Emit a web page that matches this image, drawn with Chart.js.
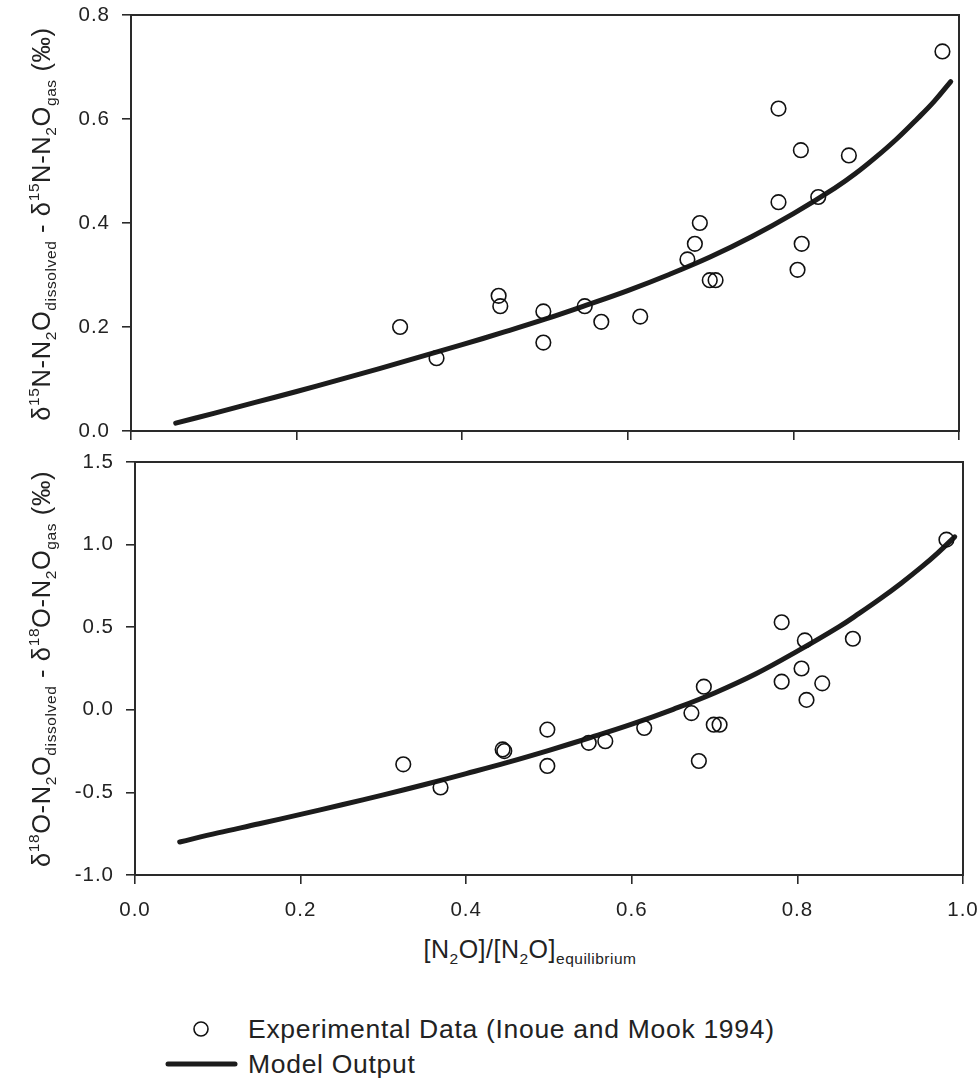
<!DOCTYPE html>
<html>
<head>
<meta charset="utf-8">
<script src="https://cdn.jsdelivr.net/npm/chart.js@4.4.1/dist/chart.umd.min.js"></script>
<style>
  html, body { margin: 0; padding: 0; background: #fff; }
  body { width: 980px; height: 1081px; position: relative; overflow: hidden;
         font-family: "Liberation Sans", Arial, sans-serif; color: #222; }
  canvas { position: absolute; left: 0; }
  .ytitle { position: absolute; white-space: nowrap; font-size: 25.5px; letter-spacing: 0.6px;
            transform: translate(-50%, -50%) rotate(-90deg); line-height: 1; }
  .ytitle sub, .ytitle sup, .xtitle sub { font-size: 15.5px; line-height: 0; }
  .ytitle sub, .xtitle sub { vertical-align: -6px; }
  .ytitle sup { vertical-align: 11px; }
  .xtitle { position: absolute; white-space: nowrap; font-size: 25px; letter-spacing: 0.5px;
            transform: translateX(-50%); line-height: 1; }
  .legrow { position: absolute; white-space: nowrap; }
  .legrow span { position: absolute; top: 0; font-size: 26.5px; letter-spacing: 0.7px; }
  .sym { position: absolute; }
</style>
</head>
<body>
<canvas id="topChart" width="980" height="450" style="top:0"></canvas>
<canvas id="botChart" width="980" height="480" style="top:450px"></canvas>

<div class="ytitle" style="left:42px; top:224px;">&delta;<sup>15</sup>N-N<sub>2</sub>O<sub>dissolved</sub> - &delta;<sup>15</sup>N-N<sub>2</sub>O<sub>gas</sub> (&permil;)</div>
<div class="ytitle" style="left:42px; top:669px;">&delta;<sup>18</sup>O-N<sub>2</sub>O<sub>dissolved</sub> - &delta;<sup>18</sup>O-N<sub>2</sub>O<sub>gas</sub> (&permil;)</div>
<div class="xtitle" style="left:530px; top:937px;">[N<sub>2</sub>O]/[N<sub>2</sub>O]<sub>equilibrium</sub></div>

<div class="legrow" style="left:190px; top:1014px;">
  <svg class="sym" width="22" height="22" style="left:0; top:4px"><circle cx="11" cy="11" r="7" fill="none" stroke="#111" stroke-width="1.6"/></svg>
  <span style="left:58px;">Experimental Data (Inoue and Mook 1994)</span>
</div>
<div class="legrow" style="left:165px; top:1049px;">
  <svg class="sym" width="74" height="12" style="left:0; top:9px"><line x1="3" y1="6" x2="70" y2="6" stroke="#1c1c1c" stroke-width="5" stroke-linecap="round"/></svg>
  <span style="left:83px;">Model Output</span>
</div>

<script>
// Experimental fraction of equilibrium N2O concentration (15N panel)
const expX = [0.325, 0.369, 0.444, 0.446, 0.498, 0.498, 0.548, 0.568, 0.615, 0.672, 0.681,
              0.687, 0.699, 0.706, 0.782, 0.782, 0.805, 0.809, 0.810, 0.830, 0.867, 0.980];
// Measured 15N fractionation (permil)
const expN15 = [0.20, 0.14, 0.26, 0.24, 0.23, 0.17, 0.24, 0.21, 0.22, 0.33, 0.36,
                0.40, 0.29, 0.29, 0.62, 0.44, 0.31, 0.54, 0.36, 0.45, 0.53, 0.73];
// Fraction of equilibrium and measured 18O fractionation (permil)
const expX18 = [0.324, 0.369, 0.444, 0.446, 0.498, 0.498, 0.548, 0.568, 0.615, 0.672, 0.681,
                0.687, 0.699, 0.706, 0.781, 0.781, 0.805, 0.809, 0.811, 0.830, 0.867, 0.980];
const expO18 = [-0.33, -0.47, -0.24, -0.25, -0.12, -0.34, -0.20, -0.19, -0.11, -0.02, -0.31,
                0.14, -0.09, -0.09, 0.53, 0.17, 0.25, 0.42, 0.06, 0.16, 0.43, 1.03];

// Model output curves
const modelX = [0.054, 0.10, 0.15, 0.20, 0.25, 0.30, 0.35, 0.40, 0.45, 0.50,
                0.55, 0.60, 0.65, 0.70, 0.75, 0.80, 0.85, 0.875, 0.90, 0.925,
                0.95, 0.97, 0.99];
const modelN15 = [0.015, 0.034, 0.055, 0.076, 0.098, 0.120, 0.143, 0.166, 0.190, 0.215,
                  0.242, 0.270, 0.301, 0.335, 0.374, 0.418, 0.467, 0.495, 0.527, 0.562,
                  0.601, 0.634, 0.672];
const modelO18 = [-0.800, -0.745, -0.690, -0.633, -0.575, -0.515, -0.452, -0.386, -0.318, -0.245,
                  -0.168, -0.087, 0.003, 0.102, 0.218, 0.355, 0.502, 0.585, 0.672, 0.765,
                  0.865, 0.952, 1.047];

// Tick values
const xTicks = [0.0, 0.2, 0.4, 0.6, 0.8, 1.0];
const yTicksTop = [0.0, 0.2, 0.4, 0.6, 0.8];
const yTicksBot = [-1.0, -0.5, 0.0, 0.5, 1.0, 1.5];

const AXIS = '#2a2a2a';
const TEXT = '#222';
const tickFont = { family: '"Liberation Sans", Arial, sans-serif', size: 20.5 };

const pairs = (xs, ys) => xs.map((x, i) => ({ x, y: ys[i] }));

// Draws the closed frame around the plotting area
const framePlugin = {
  id: 'frame',
  beforeDraw(chart) { chart.ctx.letterSpacing = '1px'; },
  afterDraw(chart) {
    const { ctx, chartArea: a } = chart;
    ctx.save();
    ctx.strokeStyle = AXIS;
    ctx.lineWidth = 2;
    ctx.strokeRect(a.left, a.top, a.right - a.left, a.bottom - a.top);
    ctx.restore();
  }
};

// Scales keep a fixed footprint so the plot area sits where the layout padding puts it
function fixSize(prop, size) {
  return s => {
    s[prop] = size;
    s.paddingTop = 0; s.paddingBottom = 0; s.paddingLeft = 0; s.paddingRight = 0;
  };
}

function makeChart(id, curveY, ptsX, ptsY, yMin, yMax, yTicks, opts) {
  return new Chart(document.getElementById(id), {
    type: 'scatter',
    data: {
      datasets: [
        {
          type: 'line',
          data: pairs(modelX, curveY),
          borderColor: '#1c1c1c',
          borderWidth: 5,
          borderCapStyle: 'round',
          borderJoinStyle: 'round',
          pointRadius: 0,
          tension: 0.4,
          fill: false,
          order: 2
        },
        {
          data: pairs(ptsX, ptsY),
          pointRadius: 7.3,
          pointBorderWidth: 1.6,
          borderColor: '#111',
          backgroundColor: 'rgba(0,0,0,0)',
          pointBackgroundColor: 'rgba(0,0,0,0)',
          order: 1
        }
      ]
    },
    options: {
      responsive: false,
      animation: false,
      events: [],
      layout: { padding: opts.padding },
      plugins: { legend: { display: false }, tooltip: { enabled: false } },
      scales: {
        x: {
          type: 'linear', min: 0, max: 1,
          afterBuildTicks: s => { s.ticks = xTicks.map(v => ({ value: v })); },
          ticks: {
            callback: v => v.toFixed(1),
            font: tickFont,
            color: opts.xLabels ? TEXT : 'rgba(0,0,0,0)',
            padding: 14,
            maxRotation: 0
          },
          grid: { drawOnChartArea: false, drawTicks: true, tickLength: 9, color: AXIS, lineWidth: 1.6 },
          border: { display: true, color: AXIS, width: 2 },
          afterFit: fixSize('height', opts.xHeight)
        },
        y: {
          type: 'linear', min: yMin, max: yMax,
          afterBuildTicks: s => { s.ticks = yTicks.map(v => ({ value: v })); },
          ticks: { callback: v => v.toFixed(1), font: tickFont, color: TEXT, padding: 12 },
          grid: { drawOnChartArea: false, drawTicks: true, tickLength: 9, color: AXIS, lineWidth: 1.6 },
          border: { display: true, color: AXIS, width: 2 },
          afterFit: fixSize('width', opts.yWidth)
        }
      }
    },
    plugins: [framePlugin]
  });
}

makeChart('topChart', modelN15, expX, expN15, 0, 0.8, yTicksTop,
  { padding: { top: 15, right: 21, left: 0, bottom: 0 }, xHeight: 19, yWidth: 131, xLabels: false });

makeChart('botChart', modelO18, expX18, expO18, -1.0, 1.5, yTicksBot,
  { padding: { top: 12, right: 17, left: 0, bottom: 0 }, xHeight: 55, yWidth: 135, xLabels: true });
</script>
</body>
</html>
